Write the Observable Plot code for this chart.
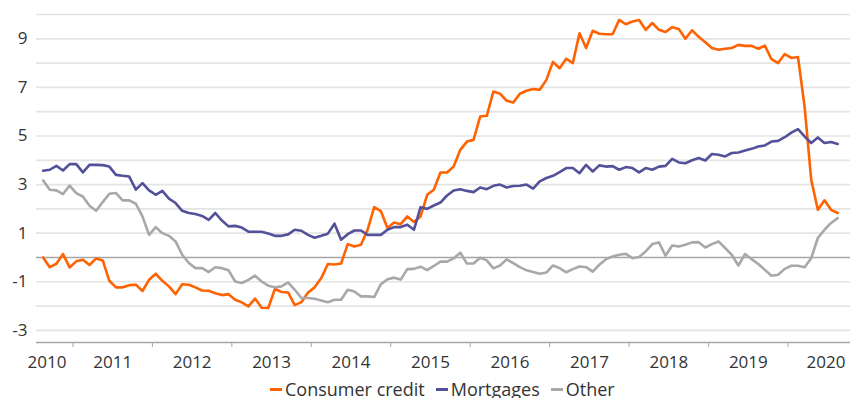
<!DOCTYPE html>
<html><head><meta charset="utf-8">
<script src="https://cdn.jsdelivr.net/npm/d3@7"></script>
<script src="https://cdn.jsdelivr.net/npm/@observablehq/plot@0.6"></script>
<style>
body{margin:0;background:#fff;font-family:"Open Sans",sans-serif;}
#chart svg{display:block;}
#legend{display:flex;align-items:center;padding-left:270px;height:18px;padding-top:5px;font-size:18px;line-height:18px;color:#333;font-family:"Open Sans",sans-serif;}
.item{display:flex;align-items:center;margin-right:11px;}
.sw{width:12px;height:3px;margin-right:3px;}
</style></head><body><div id="chart"></div><div id="legend"></div>
<script>
// Monthly series, Aug 2010 – Aug 2020
const startYear = 2010, startMonth = 8;
const seriesNames = ["Consumer credit", "Mortgages", "Other"];
const seriesColors = ["#ff6200", "#525199", "#a8a8a8"];
const consumerCredit = [
  0.0, -0.40, -0.26, 0.14, -0.41, -0.16, -0.09, -0.31, -0.04, -0.12,
  -0.96, -1.23, -1.23, -1.14, -1.12, -1.38, -0.92, -0.67, -0.96, -1.19,
  -1.51, -1.10, -1.12, -1.23, -1.36, -1.37, -1.47, -1.55, -1.51, -1.74,
  -1.85, -2.01, -1.69, -2.07, -2.08, -1.30, -1.42, -1.44, -1.96, -1.84,
  -1.44, -1.23, -0.85, -0.27, -0.29, -0.25, 0.55, 0.45, 0.52, 1.14,
  2.07, 1.91, 1.21, 1.44, 1.37, 1.69, 1.46, 1.69, 2.58, 2.79,
  3.50, 3.50, 3.74, 4.43, 4.77, 4.84, 5.80, 5.83, 6.83, 6.74,
  6.45, 6.38, 6.74, 6.86, 6.93, 6.90, 7.31, 8.05, 7.79, 8.18,
  8.0, 9.23, 8.62, 9.33, 9.21, 9.19, 9.19, 9.78, 9.60, 9.71,
  9.77, 9.37, 9.65, 9.37, 9.28, 9.48, 9.40, 9.0, 9.35, 9.08,
  8.86, 8.62, 8.55, 8.59, 8.62, 8.75, 8.71, 8.71, 8.59, 8.72,
  8.16, 8.0, 8.37, 8.21, 8.25, 6.21, 3.20, 1.96, 2.35, 1.96, 1.83
];
const mortgages = [
  3.57, 3.61, 3.77, 3.58, 3.84, 3.84, 3.50, 3.81, 3.81, 3.80,
  3.74, 3.40, 3.36, 3.33, 2.79, 3.06, 2.76, 2.58, 2.74, 2.42,
  2.24, 1.92, 1.83, 1.79, 1.71, 1.55, 1.83, 1.52, 1.28, 1.30,
  1.23, 1.06, 1.06, 1.06, 0.99, 0.89, 0.89, 0.95, 1.14, 1.10,
  0.93, 0.81, 0.89, 0.98, 1.39, 0.73, 0.96, 1.11, 1.11, 0.93,
  0.93, 0.93, 1.14, 1.25, 1.25, 1.35, 1.14, 2.07, 2.0, 2.14,
  2.26, 2.55, 2.76, 2.81, 2.74, 2.69, 2.88, 2.81, 2.95, 3.00,
  2.88, 2.94, 2.95, 3.00, 2.83, 3.13, 3.27, 3.36, 3.51, 3.68,
  3.68, 3.47, 3.81, 3.54, 3.79, 3.74, 3.76, 3.61, 3.72, 3.68,
  3.50, 3.68, 3.61, 3.74, 3.77, 4.06, 3.91, 3.88, 4.00, 4.09,
  3.99, 4.26, 4.23, 4.16, 4.30, 4.32, 4.40, 4.47, 4.57, 4.61,
  4.77, 4.80, 4.95, 5.14, 5.28, 4.98, 4.71, 4.94, 4.71, 4.75, 4.67
];
const other = [
  3.17, 2.79, 2.76, 2.61, 2.96, 2.65, 2.51, 2.13, 1.92, 2.28,
  2.62, 2.65, 2.35, 2.35, 2.21, 1.69, 0.93, 1.25, 1.00, 0.89,
  0.66, 0.11, -0.23, -0.44, -0.44, -0.60, -0.40, -0.44, -0.53, -0.99,
  -1.05, -0.92, -0.75, -0.99, -1.16, -1.23, -1.19, -1.03, -1.33, -1.67,
  -1.67, -1.70, -1.77, -1.84, -1.74, -1.74, -1.33, -1.40, -1.60, -1.60,
  -1.63, -1.10, -0.90, -0.83, -0.91, -0.48, -0.47, -0.38, -0.52, -0.35,
  -0.17, -0.17, -0.04, 0.20, -0.25, -0.25, -0.01, -0.12, -0.45, -0.33,
  -0.08, -0.23, -0.40, -0.53, -0.60, -0.67, -0.62, -0.33, -0.44, -0.61,
  -0.48, -0.37, -0.40, -0.58, -0.30, -0.07, 0.04, 0.11, 0.15, -0.03,
  0.02, 0.25, 0.55, 0.62, 0.07, 0.49, 0.45, 0.52, 0.62, 0.63,
  0.41, 0.55, 0.66, 0.39, 0.11, -0.33, 0.14, -0.07, -0.27, -0.51,
  -0.75, -0.71, -0.47, -0.34, -0.34, -0.40, -0.03, 0.80, 1.14, 1.42, 1.62
];
const yTickLabels = [9, 7, 5, 3, 1, -1, -3];
const gridValues = [-3, -2, -1, 1, 2, 3, 4, 5, 6, 7, 8, 9, 10];
const years = [2010, 2011, 2012, 2013, 2014, 2015, 2016, 2017, 2018, 2019, 2020];

// build table
const allSeries = [consumerCredit, mortgages, other];
const data = [];
const t0 = startYear + (startMonth - 1) / 12;
allSeries.forEach((vals, s) => vals.forEach((v, i) => data.push({series: seriesNames[s], x: t0 + (i + 0.5) / 12, v})));
const xDomain = [t0 - 0.042, years[years.length - 1] + 0.786];
const yDomain = [-3.5, 10];
const innerYears = years.slice(1, -1).map(y => ({label: String(y), pos: y + 0.5}));
const yearTicks = years.slice(1);

const chart = Plot.plot({
  width: 851, height: 375,
  marginLeft: 36, marginRight: 1, marginTop: 14, marginBottom: 33,
  style: {fontFamily: "'Open Sans', sans-serif", fontSize: "17px", color: "#a6a6a6", background: "white", overflow: "visible"},
  x: {domain: xDomain, ticks: yearTicks, tickSize: 5, tickFormat: () => "", label: null},
  y: {domain: yDomain, axis: null},
  color: {domain: seriesNames, range: seriesColors},
  marks: [
    Plot.ruleY(gridValues, {stroke: "#e4e4e4", strokeWidth: 1.7}),
    Plot.ruleY([0], {stroke: "#a6a6a6", strokeWidth: 1.5}),
    Plot.ruleY([yDomain[0]], {stroke: "#a6a6a6", strokeWidth: 1.3}),
    Plot.lineY(data, {x: "x", y: "v", z: "series", stroke: "series", strokeWidth: 2.6, strokeLinejoin: "round"}),
    Plot.text(yTickLabels, {x: () => xDomain[0], y: d => d, text: d => String(d), textAnchor: "end", dx: -9, fill: "#333", fontSize: 17}),
    Plot.text(innerYears, {x: "pos", y: () => yDomain[0], text: "label", dy: 20, fill: "#333", fontSize: 17}),
    Plot.text([String(years[0])], {x: () => xDomain[0], y: () => yDomain[0], text: d => d, textAnchor: "start", dx: -9, dy: 20, fill: "#333", fontSize: 17}),
    Plot.text([String(years[years.length - 1])], {x: () => xDomain[1], y: () => yDomain[0], text: d => d, textAnchor: "end", dx: -5, dy: 20, fill: "#333", fontSize: 17})
  ]
});
document.getElementById("chart").appendChild(chart);

const legend = document.getElementById("legend");
seriesNames.forEach((n, i) => {
  const it = document.createElement("div"); it.className = "item";
  const sw = document.createElement("span"); sw.className = "sw"; sw.style.background = seriesColors[i];
  const tx = document.createElement("span"); tx.textContent = n;
  it.appendChild(sw); it.appendChild(tx); legend.appendChild(it);
});
</script></body></html>
